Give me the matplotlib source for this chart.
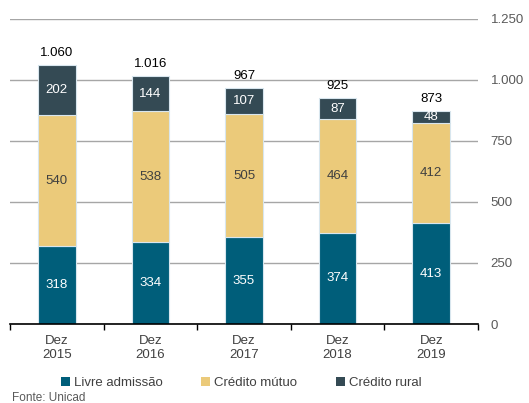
import matplotlib
matplotlib.use("Agg")
import matplotlib.pyplot as plt
import numpy as np

plt.rcParams['font.family'] = ['Liberation Sans', 'DejaVu Sans']

categories = ["Dez\n2015", "Dez\n2016", "Dez\n2017", "Dez\n2018", "Dez\n2019"]
livre = [318, 334, 355, 374, 413]
mutuo = [540, 538, 505, 464, 412]
rural = [202, 144, 107, 87, 48]
totals = [1060, 1016, 967, 925, 873]
yticks = [0, 250, 500, 750, 1000, 1250]

c_livre = "#005e7a"
c_mutuo = "#ebca7a"
c_rural = "#344a54"

def fmt(v):
    return f"{v:,}".replace(",", ".")

fig = plt.figure(figsize=(5.29, 4.03), dpi=100)
ax = fig.add_axes([0.0189, 0.196, 0.8847, 0.757])

x = np.arange(len(categories))
w = 0.4
edge = "#d8e6ee"
b1 = ax.bar(x, livre, w, color=c_livre, edgecolor=edge, linewidth=0.8, zorder=2, label="Livre admissão")
b2 = ax.bar(x, mutuo, w, bottom=livre, color=c_mutuo, edgecolor=edge, linewidth=0.8, zorder=2, label="Crédito mútuo")
bot3 = [a + b for a, b in zip(livre, mutuo)]
b3 = ax.bar(x, rural, w, bottom=bot3, color=c_rural, edgecolor=edge, linewidth=0.8, zorder=2, label="Crédito rural")

for i in range(len(x)):
    ax.text(x[i], livre[i] / 2, fmt(livre[i]), ha="center", va="center", color="white", fontsize=9.5, zorder=3)
    ax.text(x[i], livre[i] + mutuo[i] / 2, fmt(mutuo[i]), ha="center", va="center", color="#404040", fontsize=9.5, zorder=3)
    ax.text(x[i], bot3[i] + rural[i] / 2, fmt(rural[i]), ha="center", va="center", color="white", fontsize=9.5, zorder=3)
    ax.text(x[i], totals[i] + 24, fmt(totals[i]), ha="center", va="bottom", color="black", fontsize=9.5, zorder=3)

ax.set_xlim(-0.5, len(x) - 0.5)
ax.set_ylim(0, 1250)
ax.yaxis.tick_right()
ax.set_yticks(yticks)
ax.set_yticklabels([fmt(v) for v in yticks], color="#595959", fontsize=9.5)
ax.tick_params(axis="y", length=0, pad=9)
ax.grid(axis="y", color="#a6a6a6", linewidth=1, zorder=0)
ax.set_axisbelow(True)

ax.set_xticks(x)
ax.set_xticklabels(categories, fontsize=9.5, color="#404040", linespacing=1.2)
ax.tick_params(axis="x", length=0, pad=8)
ax.set_xticks(np.arange(-0.5, len(x), 1.0), minor=True)
ax.tick_params(axis="x", which="minor", length=4, width=1, color="black", direction="out")

for s in ["top", "left", "right"]:
    ax.spines[s].set_visible(False)
ax.spines["bottom"].set_color("black")
ax.spines["bottom"].set_linewidth(1.2)

leg = fig.legend(handles=[b1, b2, b3], loc="center", bbox_to_anchor=(0.456, 0.05), ncol=3,
                 frameon=False, fontsize=9.5, handlelength=0.7, handleheight=0.7,
                 handletextpad=0.3, columnspacing=2.9)
for t in leg.get_texts():
    t.set_color("#404040")
for h in leg.legend_handles:
    h.set_edgecolor("none")

fig.text(0.022, 0.0124, "Fonte: Unicad", fontsize=8.5, color="#595959", ha="left", va="center")

fig.savefig("out.png", dpi=100)
